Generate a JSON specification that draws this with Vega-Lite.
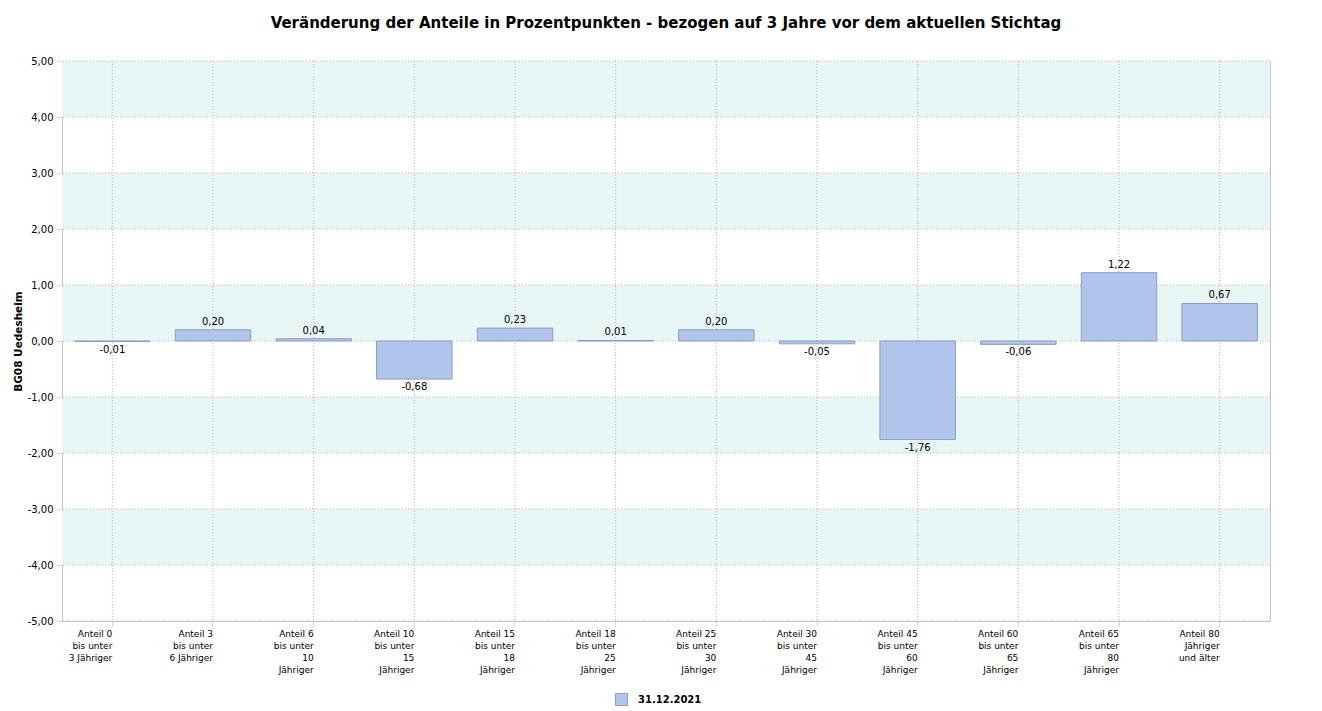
{
  "$schema": "https://vega.github.io/schema/vega-lite/v6.json",
  "autosize": {"type": "none"},
  "padding": {"left": 62, "top": 61, "right": 52, "bottom": 90},
  "width": 1208,
  "height": 560,
  "background": "white",
  "title": {
    "text": "Veränderung der Anteile in Prozentpunkten - bezogen auf 3 Jahre vor dem aktuellen Stichtag",
    "font": "DejaVu Sans",
    "fontSize": 15,
    "fontWeight": "bold",
    "color": "#000000",
    "anchor": "middle",
    "offset": 25
  },
  "config": {
    "locale": {"number": {"decimal": ",", "thousands": ".", "grouping": [3], "currency": ["", " €"], "minus": "-"}},
    "view": {"stroke": "#c8c8c8", "strokeWidth": 1},
    "axis": {"labelFont": "DejaVu Sans", "titleFont": "DejaVu Sans", "labelColor": "#000000", "titleColor": "#000000"}
  },
  "datasets": {
    "bars": [
      {"cat": "Anteil 0|bis unter|3 Jähriger", "v": -0.01, "series": "31.12.2021"},
      {"cat": "Anteil 3|bis unter|6 Jähriger", "v": 0.20, "series": "31.12.2021"},
      {"cat": "Anteil 6|bis unter|10|Jähriger", "v": 0.04, "series": "31.12.2021"},
      {"cat": "Anteil 10|bis unter|15|Jähriger", "v": -0.68, "series": "31.12.2021"},
      {"cat": "Anteil 15|bis unter|18|Jähriger", "v": 0.23, "series": "31.12.2021"},
      {"cat": "Anteil 18|bis unter|25|Jähriger", "v": 0.01, "series": "31.12.2021"},
      {"cat": "Anteil 25|bis unter|30|Jähriger", "v": 0.20, "series": "31.12.2021"},
      {"cat": "Anteil 30|bis unter|45|Jähriger", "v": -0.05, "series": "31.12.2021"},
      {"cat": "Anteil 45|bis unter|60|Jähriger", "v": -1.76, "series": "31.12.2021"},
      {"cat": "Anteil 60|bis unter|65|Jähriger", "v": -0.06, "series": "31.12.2021"},
      {"cat": "Anteil 65|bis unter|80|Jähriger", "v": 1.22, "series": "31.12.2021"},
      {"cat": "Anteil 80|Jähriger|und älter", "v": 0.67, "series": "31.12.2021"}
    ],
    "bands": [
      {"lo": 4, "hi": 5},
      {"lo": 2, "hi": 3},
      {"lo": 0, "hi": 1},
      {"lo": -2, "hi": -1},
      {"lo": -4, "hi": -3}
    ],
    "grid": [
      {"g": -5}, {"g": -4}, {"g": -3}, {"g": -2}, {"g": -1}, {"g": 0},
      {"g": 1}, {"g": 2}, {"g": 3}, {"g": 4}, {"g": 5}
    ]
  },
  "layer": [
    {
      "data": {"name": "bands"},
      "mark": {"type": "rect", "fill": "#e8f6f6"},
      "encoding": {
        "y": {"field": "lo", "type": "quantitative", "scale": {"domain": [-5, 5], "nice": false, "zero": false},
          "axis": {
            "values": [-5, -4, -3, -2, -1, 0, 1, 2, 3, 4, 5],
            "format": ".2f",
            "title": "BG08 Uedesheim",
            "titleFontSize": 10.5,
            "titleFontWeight": "bold",
            "titlePadding": 4,
            "labelFontSize": 10,
            "labelPadding": 4,
            "tickSize": 5,
            "tickColor": "#b0b0b0",
            "tickDash": [1, 1],
            "domain": false,
            "grid": false
          }
        },
        "y2": {"field": "hi"}
      }
    },
    {
      "data": {"name": "grid"},
      "mark": {"type": "rule", "stroke": "#b4b4b4", "strokeDash": [1, 2], "strokeWidth": 1},
      "encoding": {"y": {"field": "g", "type": "quantitative"}}
    },
    {
      "data": {"name": "bars"},
      "mark": {"type": "rule", "stroke": "#b4b4b4", "strokeDash": [1, 2], "strokeWidth": 1},
      "encoding": {"x": {"field": "cat", "type": "nominal", "sort": null}}
    },
    {
      "data": {"name": "bars"},
      "layer": [
        {
          "mark": {"type": "bar", "stroke": "#8b9ec6", "strokeWidth": 1},
          "encoding": {
            "x": {
              "field": "cat", "type": "nominal", "sort": null,
              "scale": {"paddingInner": 0.25, "paddingOuter": 0.125},
              "axis": {
                "title": null,
                "labelExpr": "split(datum.label, '|')",
                "labelAngle": 0,
                "labelFontSize": 9,
                "labelLineHeight": 12,
                "labelPadding": 3,
                "labelBaseline": "top",
                "tickSize": 5,
                "tickColor": "#b0b0b0",
                "tickDash": [1, 1],
                "bandPosition": 0.5,
                "domain": false,
                "grid": false
              }
            },
            "y": {"field": "v", "type": "quantitative"},
            "color": {
              "field": "series", "type": "nominal",
              "scale": {"range": ["#b0c4ec"]},
              "legend": {
                "title": null,
                "orient": "none",
                "legendX": 553,
                "legendY": 632,
                "padding": 0,
                "symbolType": "square",
                "symbolSize": 144,
                "symbolStrokeColor": "#8b9ec6",
                "symbolStrokeWidth": 1,
                "symbolOpacity": 1,
                "labelFont": "DejaVu Sans",
                "labelFontSize": 10,
                "labelFontWeight": "bold",
                "labelColor": "#000000",
                "labelOffset": 10
              }
            }
          }
        },
        {
          "transform": [{"filter": "datum.v >= 0"}],
          "mark": {"type": "text", "baseline": "bottom", "dy": -3, "font": "DejaVu Sans", "fontSize": 10, "color": "#000000"},
          "encoding": {
            "x": {"field": "cat", "type": "nominal", "sort": null},
            "y": {"field": "v", "type": "quantitative"},
            "text": {"field": "v", "type": "quantitative", "format": ".2f"}
          }
        },
        {
          "transform": [{"filter": "datum.v < 0"}],
          "mark": {"type": "text", "baseline": "top", "dy": 3, "font": "DejaVu Sans", "fontSize": 10, "color": "#000000"},
          "encoding": {
            "x": {"field": "cat", "type": "nominal", "sort": null},
            "y": {"field": "v", "type": "quantitative"},
            "text": {"field": "v", "type": "quantitative", "format": ".2f"}
          }
        }
      ]
    }
  ]
}
